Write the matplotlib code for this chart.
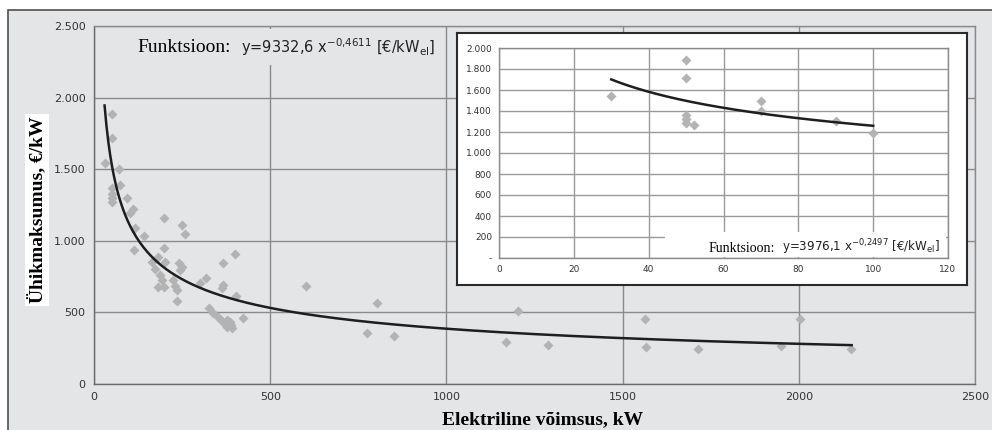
import numpy as np
import matplotlib
matplotlib.use("Agg")
import matplotlib.pyplot as plt
from matplotlib.patches import Rectangle

# ---------------- data ----------------
main_x = [52, 52, 30, 72, 74, 51, 51, 51, 51, 93, 112, 102, 115, 200, 251, 257, 143,
          114, 200, 401, 367, 183, 164, 202, 240, 249, 245, 173, 188, 318, 301, 225,
          192, 183, 200, 230, 235, 363, 365, 403, 235, 325, 339,
          353, 362, 372, 378, 385, 390, 376, 392, 422,
          601, 802, 774, 851, 1202, 1169, 1288, 1564, 1565, 1714, 2003, 1949, 2148]
main_y = [1883, 1716, 1543, 1501, 1392, 1368, 1329, 1299, 1268, 1299, 1222, 1196, 1089, 1159, 1112, 1049, 1035,
          935, 950, 909, 844, 886, 855, 855, 848, 820, 797, 802, 762, 739, 704, 727,
          727, 676, 680, 685, 657, 669, 692, 617, 583, 529, 494,
          471, 440, 420, 448, 430, 410, 400, 392, 459,
          685, 564, 354, 336, 513, 292, 273, 457, 257, 243, 455, 266, 243]

inset_x = [30, 50, 50, 50, 50, 50, 52, 70, 70, 90, 100]
inset_y = [1539, 1882, 1711, 1362, 1321, 1289, 1267, 1500, 1400, 1305, 1193]

main_fit = (9332.6, -0.4611, 30, 2150)     # a, b, x_start, x_end
inset_fit = (3976.1, -0.2497, 30, 100)

main_xticks = [0, 500, 1000, 1500, 2000, 2500]
main_xticklabels = ["0", "500", "1000", "1500", "2000", "2500"]
main_yticks = [0, 500, 1000, 1500, 2000, 2500]
main_yticklabels = ["0", "500", "1.000", "1.500", "2.000", "2.500"]

inset_xticks = [0, 20, 40, 60, 80, 100, 120]
inset_xticklabels = ["0", "20", "40", "60", "80", "100", "120"]
inset_yticks = [0, 200, 400, 600, 800, 1000, 1200, 1400, 1600, 1800, 2000]
inset_yticklabels = ["-", "200", "400", "600", "800", "1.000", "1.200", "1.400",
                     "1.600", "1.800", "2.000"]

# ---------------- style ----------------
W, H = 992, 430
BG = "#e4e5e7"
GRID = "#8a8a8a"
PT = "#b3b3b3"
LINE = "#1e1e1e"
SERIF = ["Liberation Serif", "DejaVu Serif"]
SANS = ["DejaVu Sans"]

plt.rcParams["font.family"] = SANS
plt.rcParams["mathtext.default"] = "regular"

fig = plt.figure(figsize=(W / 100, H / 100), dpi=100)
fig.patch.set_facecolor("white")

def fx(px):
    return px / W

def fy(py):
    return 1 - py / H

# outer gray panel
fig.patches.append(Rectangle((fx(8), -0.1), 1.2, fy(10) + 0.1, transform=fig.transFigure,
                             facecolor=BG, edgecolor="#505050", lw=1.2, zorder=-5))

# ---------------- main axes ----------------
ax = fig.add_axes([fx(94), fy(384), fx(975) - fx(94), fy(26) - fy(384)])
ax.set_zorder(1)
ax.set_facecolor(BG)
ax.set_xlim(0, 2500)
ax.set_ylim(0, 2500)
ax.set_axisbelow(True)
ax.grid(True, color=GRID, lw=1.0)
for s in ax.spines.values():
    s.set_color(GRID)
    s.set_linewidth(1.0)
ax.spines["left"].set_color("#6a6a6a")
ax.spines["bottom"].set_color("#6a6a6a")
ax.set_xticks(main_xticks)
ax.set_xticklabels(main_xticklabels)
ax.set_yticks(main_yticks)
ax.set_yticklabels(main_yticklabels)
ax.tick_params(length=0, labelsize=8, colors="#333333", pad=6)
ax.plot(main_x, main_y, "D", ms=5, color=PT, mec="none", zorder=3)
a, b, x0, x1 = main_fit
xs = np.linspace(x0, x1, 400)
ax.plot(xs, a * xs ** b, color=LINE, lw=1.8, zorder=4)

ax.text(fx(137), fy(47), "Funktsioon:", transform=fig.transFigure, family=SERIF,
        fontsize=14, va="center", ha="left", zorder=5)
ax.text(fx(241), fy(47), r"y=9332,6 x$^{-0{,}4611}$ [€/kW$_{el}$]", transform=fig.transFigure,
        fontsize=10.5, va="center", ha="left", color="#222222", zorder=5,
        bbox=dict(facecolor=BG, edgecolor="none", pad=5))

# ---------------- inset ----------------
frame = fig.add_axes([fx(457), fy(285), fx(967) - fx(457), fy(33) - fy(285)])
frame.set_facecolor("white")
frame.set_xticks([])
frame.set_yticks([])
for s in frame.spines.values():
    s.set_color("#2a2a2a")
    s.set_linewidth(1.5)
frame.set_zorder(5)

axi = fig.add_axes([fx(499), fy(258), fx(948) - fx(499), fy(48) - fy(258)])
axi.set_zorder(6)
axi.set_facecolor("white")
axi.set_xlim(0, 120)
axi.set_ylim(0, 2000)
axi.set_axisbelow(True)
axi.grid(True, color="#9a9a9a", lw=1.0)
for s in axi.spines.values():
    s.set_color("#8a8a8a")
    s.set_linewidth(1.0)
axi.set_xticks(inset_xticks)
axi.set_xticklabels(inset_xticklabels)
axi.set_yticks(inset_yticks)
axi.set_yticklabels(inset_yticklabels)
axi.tick_params(length=0, labelsize=6.5, colors="#333333", pad=5)
axi.plot(inset_x, inset_y, "D", ms=5, color=PT, mec="none", zorder=3)
a, b, x0, x1 = inset_fit
xs = np.linspace(x0, x1, 200)
axi.plot(xs, a * xs ** b, color=LINE, lw=1.8, zorder=4)

axi.add_patch(Rectangle(((665 - 499) / 449, 0.003), 0.995 - (665 - 499) / 449, (258 - 233) / 210,
                        transform=axi.transAxes, facecolor="white", edgecolor="none", zorder=1.5))
axi.text(fx(709), fy(248), "Funktsioon:", transform=fig.transFigure, family=SERIF,
         fontsize=10, va="center", ha="left", zorder=7)
axi.text(fx(782), fy(247), r"y=3976,1 x$^{-0{,}2497}$ [€/kW$_{el}$]", transform=fig.transFigure,
         fontsize=8.6, va="center", ha="left", color="#222222", zorder=7)

# ---------------- axis titles ----------------
fig.text(fx(37), fy(210), "Ühikmaksumus, €/kW", rotation=90, family=SERIF, weight="bold",
         fontsize=14, ha="center", va="center",
         bbox=dict(facecolor="white", edgecolor="none", pad=2))
fig.text(fx(543), fy(420), "Elektriline võimsus, kW", family=SERIF, weight="bold",
         fontsize=14, ha="center", va="center")

fig.savefig("out.png", dpi=100, facecolor=fig.get_facecolor())
